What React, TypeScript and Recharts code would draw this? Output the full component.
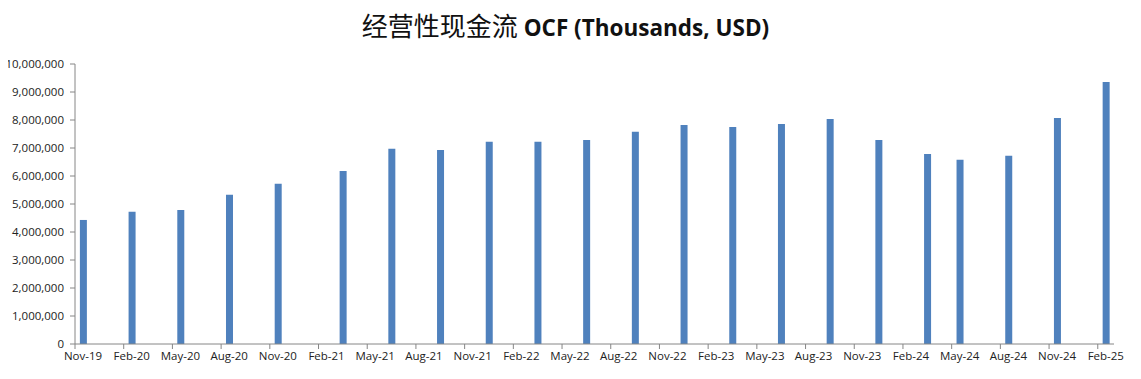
import { BarChart, Bar, XAxis, YAxis } from 'recharts'

// reporting periods (month-year) and operating cash flow, thousands USD
const periods = [
  'Nov-19', 'Feb-20', 'May-20', 'Aug-20', 'Nov-20', 'Mar-21', 'Jun-21', 'Sep-21',
  'Dec-21', 'Mar-22', 'Jun-22', 'Sep-22', 'Dec-22', 'Mar-23', 'Jun-23', 'Sep-23',
  'Dec-23', 'Mar-24', 'May-24', 'Aug-24', 'Nov-24', 'Feb-25',
]
const ocf = [
  4430000, 4720000, 4790000, 5330000, 5720000, 6180000, 6970000, 6930000,
  7220000, 7220000, 7290000, 7580000, 7820000, 7750000, 7860000, 8040000,
  7290000, 6790000, 6580000, 6720000, 8070000, 9360000,
]
const tickLabels = [
  'Nov-19', 'Feb-20', 'May-20', 'Aug-20', 'Nov-20', 'Feb-21', 'May-21', 'Aug-21',
  'Nov-21', 'Feb-22', 'May-22', 'Aug-22', 'Nov-22', 'Feb-23', 'May-23', 'Aug-23',
  'Nov-23', 'Feb-24', 'May-24', 'Aug-24', 'Nov-24', 'Feb-25',
]
const yTicks = [0, 1000000, 2000000, 3000000, 4000000, 5000000, 6000000, 7000000, 8000000, 9000000, 10000000]

const MONTHS = ['Jan', 'Feb', 'Mar', 'Apr', 'May', 'Jun', 'Jul', 'Aug', 'Sep', 'Oct', 'Nov', 'Dec']
// month slot counted from Nov-19 (date axis, one slot per month)
const slot = (label: string) => {
  const [m, y] = label.split('-')
  return (Number(y) - 19) * 12 + MONTHS.indexOf(m) - 10
}

const data = periods.map((p, i) => ({ period: p, x: slot(p) + 0.5, ocf: ocf[i] }))
const xTicks = tickLabels.map(slot)
const lastSlot = slot(tickLabels[tickLabels.length - 1]) + 1

const FONT = '"Open Sans", "Noto Sans CJK SC", sans-serif'
const fmt = (v: number) => v.toLocaleString('en-US')

const XTick = (props: any) => {
  const { x, y, payload } = props
  const label = tickLabels[xTicks.indexOf(payload.value)]
  return (
    <text x={x + 8} y={y} dy={9} textAnchor="middle" fill="#222" fontSize={11.5} fontFamily={FONT}>
      {label}
    </text>
  )
}

export default function App() {
  return (
    <div style={{ position: 'relative', width: 1141, height: 379, background: '#fff', margin: -8 }}>
      <div
        style={{
          position: 'absolute', left: 0, top: 9, width: 1131, textAlign: 'center',
          lineHeight: '32px', color: '#111', fontFamily: FONT, whiteSpace: 'nowrap',
        }}
      >
        <span style={{ fontFamily: '"Noto Sans CJK SC", sans-serif', fontSize: 26 }}>经营性现金流 </span>
        <span style={{ fontWeight: 700, fontSize: 22.5 }}>OCF (Thousands, USD)</span>
      </div>
      <BarChart width={1141} height={379} data={data} margin={{ top: 64, right: 27, left: 0, bottom: 0 }}>
        <XAxis
          type="number"
          dataKey="x"
          domain={[0, lastSlot]}
          ticks={xTicks}
          interval={0}
          height={35}
          stroke="#868686"
          tickSize={5}
          tick={<XTick />}
        />
        <YAxis
          domain={[0, 10000000]}
          ticks={yTicks}
          width={75}
          stroke="#868686"
          tickSize={5}
          tickMargin={6}
          tickFormatter={fmt}
          tick={{ fill: '#222', fontSize: 11.5, fontFamily: FONT }}
        />
        <Bar dataKey="ocf" fill="#4F81BD" barSize={7} isAnimationActive={false} />
      </BarChart>
    </div>
  )
}
